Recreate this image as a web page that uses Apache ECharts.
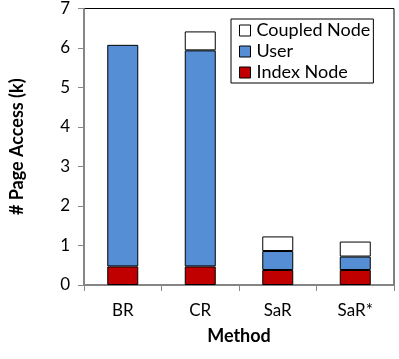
<!DOCTYPE html>
<html>
<head>
<meta charset="utf-8">
<script src="https://cdn.jsdelivr.net/npm/echarts@6/dist/echarts.min.js"></script>
<style>
  html, body { margin: 0; padding: 0; background: #fff; }
  #chart { width: 399px; height: 359px; }
</style>
</head>
<body>
<div id="chart"></div>
<script>
// 数据
var methods = ['BR', 'CR', 'SaR', 'SaR*']
var indexNode = [0.47, 0.47, 0.38, 0.38]
var user = [5.61, 5.47, 0.48, 0.34]
var coupledNode = ['-', 0.48, 0.37, 0.38]

var font = 'Lato, "Open Sans", sans-serif'
var barStyle = function (color) {
  return { color: color, borderColor: '#000', borderWidth: 1 }
}

var chart = echarts.init(document.getElementById('chart'))
chart.setOption({
  animation: false,
  textStyle: { fontFamily: font },
  grid: {
    left: 83, right: 5, top: 7, bottom: 74,
    show: true, borderColor: '#000', borderWidth: 1
  },
  legend: {
    orient: 'vertical',
    left: 231,
    top: 19,
    data: ['Coupled Node', 'User', 'Index Node'],
    icon: 'rect',
    itemWidth: 11,
    itemHeight: 11,
    itemGap: 0,
    padding: [1, 3, 0, 8],
    borderColor: '#000',
    borderWidth: 1,
    itemStyle: { borderColor: '#000', borderWidth: 1 },
    textStyle: { fontSize: 18, lineHeight: 21, color: '#000', fontFamily: font, padding: [0, 0, 0, 1] }
  },
  xAxis: {
    type: 'category',
    data: methods,
    name: 'Method',
    nameLocation: 'middle',
    nameGap: 42,
    nameTextStyle: { fontSize: 18, fontWeight: 'bold', color: '#000' },
    axisLine: { lineStyle: { color: '#888', width: 1.5 } },
    axisTick: { show: true, length: 6, lineStyle: { color: '#888' } },
    axisLabel: { fontSize: 17, color: '#000', margin: 17 }
  },
  yAxis: {
    type: 'value',
    min: 0,
    max: 7,
    interval: 1,
    name: '# Page Access (k)',
    nameLocation: 'middle',
    nameGap: 58,
    nameTextStyle: { fontSize: 18, fontWeight: 'bold', color: '#000' },
    axisLine: { show: true, lineStyle: { color: '#888', width: 1.5 } },
    axisTick: { show: true, length: 6, lineStyle: { color: '#888' } },
    axisLabel: { fontSize: 17, color: '#000', margin: 14 },
    splitLine: { show: false }
  },
  series: [
    { name: 'Index Node', type: 'bar', stack: 'total', barWidth: '40%', data: indexNode, itemStyle: barStyle('#C00000') },
    { name: 'User', type: 'bar', stack: 'total', barWidth: '40%', data: user, itemStyle: barStyle('#558ED5') },
    { name: 'Coupled Node', type: 'bar', stack: 'total', barWidth: '40%', data: coupledNode, itemStyle: barStyle('#FFFFFF') }
  ]
})
</script>
</body>
</html>
